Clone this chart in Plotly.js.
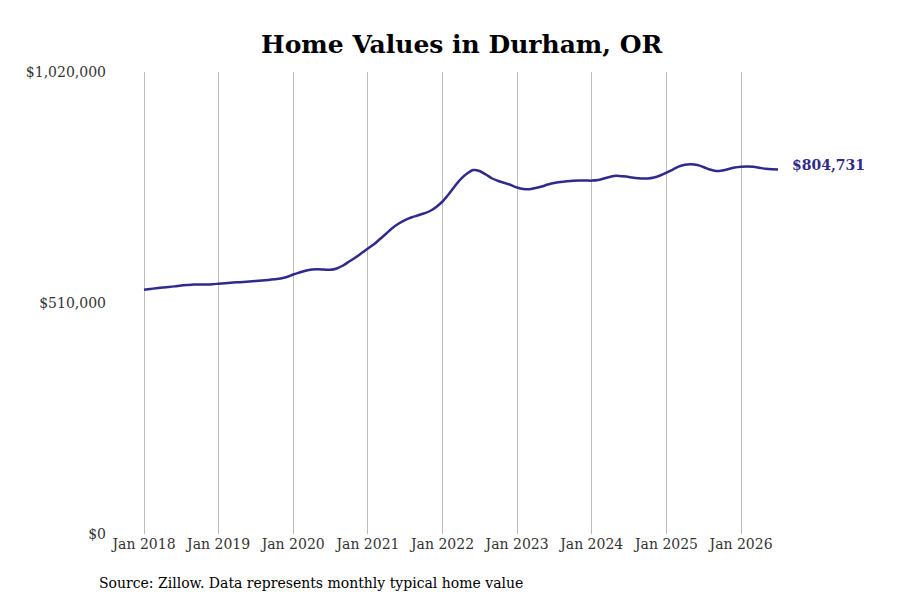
<!DOCTYPE html>
<html>
<head>
<meta charset="utf-8">
<script src="https://cdn.plot.ly/plotly-3.0.1.min.js"></script>
<style>html,body{margin:0;padding:0;background:#fff;}#chart{width:900px;height:600px;}</style>
</head>
<body>
<div id="chart"></div>
<script>
// Monthly typical home value, Jan 2018 - Jul 2026
const startYear = 2018;
const values = [
  539000, 541000, 542500, 544200, 545300, 546700, 548400, 549700, 550800, 550800, 551000, 551500,
  552600, 553700, 554800, 555700, 556400, 557500, 558600, 559900, 561000, 562300, 564100, 567400,
  572900, 577300, 581300, 583900, 584400, 583700, 583300, 586200, 592800, 601600, 610500, 620400,
  630300, 640300, 651300, 663400, 675600, 685500, 693200, 698800, 703200, 707600, 713100, 722000,
  734100, 750700, 767200, 783800, 795900, 803600, 801400, 793700, 784900, 779400, 775000, 770500,
  765000, 761700, 761000, 763900, 767200, 771600, 775000, 777100, 778700, 780000, 780700, 780500,
  780200, 781500, 784900, 788600, 790800, 789700, 788200, 786000, 784900, 784900, 787100, 791500,
  797700, 804700, 810900, 815100, 816200, 814700, 810300, 804700, 801400, 802500, 805800, 809100,
  810900, 811600, 810700, 808500, 806300, 805200, 804731
];
const dates = values.map((v, i) => {
  const y = startYear + Math.floor(i / 12);
  const m = (i % 12) + 1;
  return y + '-' + String(m).padStart(2, '0') + '-01';
});
const yTickVals = [0, 510000, 1020000];
const yTickText = ['$0', '$510,000', '$1,020,000'];
const xTickVals = ['2018-01-01','2019-01-01','2020-01-01','2021-01-01','2022-01-01','2023-01-01','2024-01-01','2025-01-01','2026-01-01'];
const xTickText = ['Jan 2018','Jan 2019','Jan 2020','Jan 2021','Jan 2022','Jan 2023','Jan 2024','Jan 2025','Jan 2026'];
const titleText = 'Home Values in Durham, OR';
const sourceText = 'Source: Zillow. Data represents monthly typical home value';
const lastLabel = '$' + values[values.length - 1].toLocaleString('en-US');

const lineColor = '#2f2a8c';
const font = 'DejaVu Serif, serif';

const trace = {
  x: dates, y: values, type: 'scatter', mode: 'lines',
  line: {color: lineColor, width: 2.5, shape: 'spline', smoothing: 0.8},
  hoverinfo: 'skip'
};

const layout = {
  width: 900, height: 600,
  margin: {l: 115, r: 115, t: 72, b: 66},
  paper_bgcolor: '#fff', plot_bgcolor: '#fff',
  font: {family: font, size: 14, color: '#333'},
  showlegend: false,
  title: {text: '<b>' + titleText + '</b>', font: {family: font, size: 25, color: '#000'},
          x: 0.513, xref: 'container', xanchor: 'center', y: 0.927, yref: 'container', yanchor: 'middle'},
  xaxis: {
    type: 'date', range: ['2017-08-12', '2026-08-04'],
    tickvals: xTickVals, ticktext: xTickText,
    showgrid: true, gridcolor: '#bdbdbd', gridwidth: 1,
    zeroline: false, showline: false, ticks: '', ticklen: 0,
    tickfont: {family: font, size: 14, color: '#333'}
  },
  yaxis: {
    range: [0, 1020000], tickvals: yTickVals, ticktext: yTickText,
    showgrid: false, zeroline: false, showline: false, ticks: '',
    ticklabelstandoff: 8,
    tickfont: {family: font, size: 14, color: '#333'}
  },
  annotations: [
    {x: dates[dates.length - 1], y: values[values.length - 1], xref: 'x', yref: 'y',
     text: '<b>' + lastLabel + '</b>', showarrow: false, xanchor: 'left', yanchor: 'middle',
     xshift: 12, yshift: 5, font: {family: font, size: 14, color: lineColor}},
    {x: 0, y: 0, xref: 'paper', yref: 'paper', text: sourceText, showarrow: false,
     xanchor: 'left', yanchor: 'middle', font: {family: font, size: 14, color: '#000'}}
  ]
};
// source annotation in pixel-based paper coords
layout.annotations[1].x = (97 - 115) / (900 - 115 - 115);
layout.annotations[1].y = (600 - 66 - 583) / (600 - 72 - 66);

Plotly.newPlot('chart', [trace], layout, {displayModeBar: false, staticPlot: true});
</script>
</body>
</html>
